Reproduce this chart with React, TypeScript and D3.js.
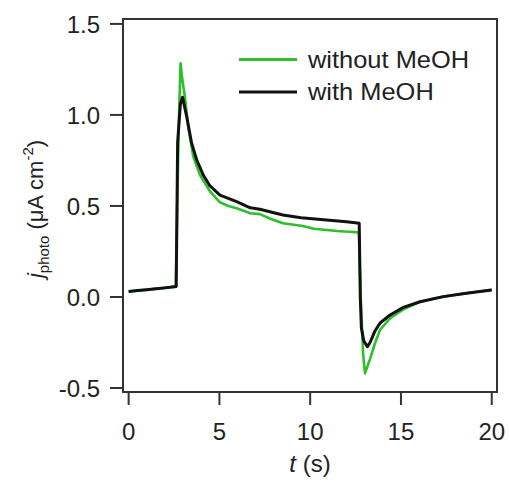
import React from 'react'
import * as d3 from 'd3'

// photocurrent transients
const tWithout = [0, 0.5, 1, 1.5, 2, 2.6, 2.75, 2.86, 2.95, 3.1, 3.28, 3.56, 3.93, 4.48, 5.03, 5.5, 5.95, 6.7, 7.23, 7.8, 8.5, 9.2, 9.6, 10.2, 10.9, 11.5, 12.1, 12.68, 12.8, 12.92, 13.02, 13.12, 13.3, 13.55, 13.85, 14.4, 15.13, 16.05, 17.33, 18.6, 20]
const jWithout = [0.03, 0.035, 0.04, 0.045, 0.05, 0.057, 0.9, 1.284, 1.2, 1.1, 0.936, 0.771, 0.67, 0.58, 0.52, 0.5, 0.487, 0.46, 0.455, 0.43, 0.405, 0.395, 0.39, 0.375, 0.368, 0.362, 0.358, 0.355, -0.05, -0.32, -0.42, -0.39, -0.34, -0.26, -0.18, -0.117, -0.068, -0.026, 0.002, 0.02, 0.04]

const tWith = [0, 0.5, 1, 1.5, 2, 2.62, 2.7, 2.85, 2.97, 3.2, 3.47, 3.75, 4.11, 4.48, 5.03, 5.95, 6.7, 7.23, 8.5, 9.5, 10.9, 12, 12.7, 12.76, 12.82, 12.95, 13.15, 13.3, 13.55, 13.85, 14.4, 15.13, 16.05, 17.33, 18.6, 20]
const jWith = [0.03, 0.035, 0.04, 0.045, 0.05, 0.057, 0.85, 1.06, 1.097, 0.99, 0.845, 0.753, 0.67, 0.61, 0.56, 0.524, 0.49, 0.482, 0.45, 0.435, 0.423, 0.413, 0.405, 0.0, -0.17, -0.24, -0.273, -0.25, -0.19, -0.143, -0.099, -0.057, -0.026, 0.002, 0.02, 0.038]

const xTicks = [0, 5, 10, 15, 20]
const yTicks = [-0.5, 0, 0.5, 1.0, 1.5]

const seriesNames = ['without MeOH', 'with MeOH']
const seriesColors = ['#2cc02c', '#111111']

const width = 510
const height = 484
const plot = { left: 123, top: 19, right: 497, bottom: 392 }
const font = '"Liberation Sans", Arial, sans-serif'
const axisColor = '#333'

export default function App() {
  const xScale = d3.scaleLinear().domain([-0.31, 20.29]).range([plot.left, plot.right])
  const yScale = d3.scaleLinear().domain([-0.522, 1.527]).range([plot.bottom, plot.top])

  const line = d3.line<[number, number]>()
    .x(d => xScale(d[0]))
    .y(d => yScale(d[1]))

  const series = [
    tWithout.map((t, i) => [t, jWithout[i]] as [number, number]),
    tWith.map((t, i) => [t, jWith[i]] as [number, number]),
  ]

  const midX = (plot.left + plot.right) / 2

  return (
    <svg width={width} height={height} style={{ position: 'absolute', left: 0, top: 0, background: '#fff' }}
      fontFamily={font}>
      {series.map((pts, i) => (
        <path key={i} d={line(pts) || ''} fill="none" stroke={seriesColors[i]}
          strokeWidth={i === 0 ? 2.6 : 3} strokeLinejoin="round" />
      ))}

      <rect x={plot.left} y={plot.top} width={plot.right - plot.left} height={plot.bottom - plot.top}
        fill="none" stroke={axisColor} strokeWidth={2} />

      {yTicks.map((v, i) => (
        <g key={i} transform={`translate(0,${yScale(v)})`}>
          <line x1={plot.left - 13} x2={plot.left} stroke={axisColor} strokeWidth={2} />
          <text x={plot.left - 23} dy="0.36em" textAnchor="end" fontSize={24} fill="#222">
            {v.toFixed(1)}
          </text>
        </g>
      ))}

      {xTicks.map((v, i) => (
        <g key={i} transform={`translate(${xScale(v)},0)`}>
          <line y1={plot.bottom} y2={plot.bottom + 13} stroke={axisColor} strokeWidth={2} />
          <text y={440} textAnchor="middle" fontSize={24} fill="#222">{v}</text>
        </g>
      ))}

      <text x={midX} y={472} textAnchor="middle" fontSize={24} fill="#222">
        <tspan fontStyle="italic">t</tspan> (s)
      </text>

      <text transform={`translate(43,209) rotate(-90)`} textAnchor="middle" fontSize={22} fill="#222">
        <tspan fontStyle="italic">j</tspan>
        <tspan fontSize={15} dy={6}>photo</tspan>
        <tspan dy={-6}> (μA cm</tspan>
        <tspan fontSize={15} dy={-10}>-2</tspan>
        <tspan dy={10}>)</tspan>
      </text>

      {seriesNames.map((name, i) => (
        <g key={i} transform={`translate(239,${59.5 + i * 32.5})`}>
          <line x1={0} x2={58} stroke={seriesColors[i]} strokeWidth={3} />
          <text transform="translate(69,8) scale(1.06,1)" fontSize={24} fill="#222">{name}</text>
        </g>
      ))}
    </svg>
  )
}
